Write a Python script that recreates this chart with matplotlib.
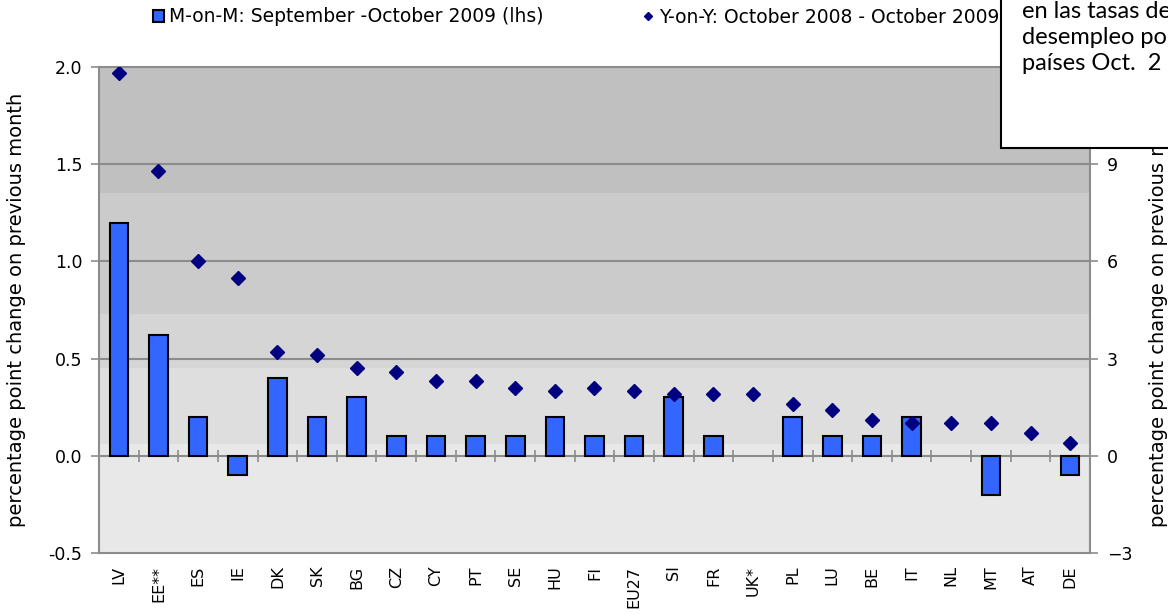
import matplotlib
matplotlib.use("Agg")
import matplotlib.pyplot as plt
from matplotlib.patches import Rectangle
import numpy as np

# data (None = no bar shown)
countries = ["LV", "EE**", "ES", "IE", "DK", "SK", "BG", "CZ", "CY", "PT", "SE", "HU", "FI",
             "EU27", "SI", "FR", "UK*", "PL", "LU", "BE", "IT", "NL", "MT", "AT", "DE"]
m_on_m = [1.2, 0.62, 0.2, -0.1, 0.4, 0.2, 0.3, 0.1, 0.1, 0.1, 0.1, 0.2, 0.1,
          0.1, 0.3, 0.1, None, 0.2, 0.1, 0.1, 0.2, None, -0.2, None, -0.1]
y_on_y = [11.8, 8.8, 6.0, 5.5, 3.2, 3.1, 2.7, 2.6, 2.3, 2.3, 2.1, 2.0, 2.1,
          2.0, 1.9, 1.9, 1.9, 1.6, 1.4, 1.1, 1.0, 1.0, 1.0, 0.7, 0.4]
left_ticks = [-0.5, 0.0, 0.5, 1.0, 1.5, 2.0]
right_ticks = [-3, 0, 3, 6, 9]

# stepped grey fill behind the plot (lhs units)
bands = [(1.35, 2.0, "#c0c0c0"), (0.73, 1.35, "#cbcbcb"), (0.45, 0.73, "#d5d5d5"),
         (0.06, 0.45, "#dedede"), (-0.5, 0.06, "#e8e8e8")]

plt.rcParams['font.family'] = ['DejaVu Sans']
GRID = "#8c8c8c"

fig = plt.figure(figsize=(11.68, 6.15), dpi=100)
ax = fig.add_axes([99 / 1168, 1 - 553 / 615, (1090 - 99) / 1168, (553 - 67) / 615])
x = np.arange(len(countries))
heights = np.array([np.nan if v is None else v for v in m_on_m])

for lo, hi, c in bands:
    ax.axhspan(lo, hi, color=c, zorder=0, lw=0)
for t in left_ticks[2:-1]:
    ax.axhline(t, color=GRID, lw=1.5, zorder=1)

bars = ax.bar(x, heights, width=0.47, color="#3366ff", edgecolor="black", lw=1.5, zorder=3,
              label="M-on-M: September -October 2009 (lhs)")
ax.set_xlim(-0.5, len(countries) - 0.5)
ax.set_ylim(-0.5, 2.0)
ax.set_yticks(left_ticks)
ax.set_yticklabels([f"{t:.1f}" for t in left_ticks])
ax.set_xticks(x)
ax.set_xticklabels(countries, rotation=90)
ax.tick_params(axis='x', length=0, labelsize=11.5, pad=9)
ax.tick_params(axis='y', length=6, width=1.2, color=GRID, labelsize=12.5, pad=6)
for s in ax.spines.values():
    s.set_color(GRID)
    s.set_linewidth(1.5)
ax.set_ylabel("percentage point change on previous month", fontsize=14, labelpad=16)

# category axis crossing at zero, with ticks between categories
zero_ax = ax.secondary_xaxis(0.2)
zero_ax.set_xticks(np.arange(len(countries) + 1) - 0.5)
zero_ax.tick_params(direction='inout', length=9, width=1.2, color=GRID, labelbottom=False)
zero_ax.spines['bottom'].set_color(GRID)
zero_ax.spines['bottom'].set_linewidth(1.5)

ax2 = ax.twinx()
pts, = ax2.plot(x, y_on_y, ls='none', marker='D', ms=7.5, color="#000080", zorder=4,
                label="Y-on-Y: October 2008 - October 2009 (rhs)")
ax2.set_ylim(-3, 12)
ax2.set_yticks(right_ticks)
ax2.tick_params(axis='y', length=6, width=1.2, color=GRID, labelsize=12.5, pad=6)
for s in ax2.spines.values():
    s.set_visible(False)
ax2.set_ylabel("percentage point change on previous month", fontsize=14, labelpad=12)

fig.legend(handles=[bars, pts], loc='center left', bbox_to_anchor=(136 / 1168, 1 - 17 / 615),
           ncol=2, frameon=False, fontsize=13.5, handlelength=0.6, handleheight=0.6,
           handletextpad=0.25, columnspacing=5.3, markerscale=0.6)

# white text box overlapping the top right corner
fig.add_artist(Rectangle((1001 / 1168, 1 - 148 / 615), 0.2, 0.3, transform=fig.transFigure,
                         facecolor="white", edgecolor="black", lw=1.5, zorder=10))
for i, line in enumerate(["en las tasas de", "desempleo po", "países Oct.  2"]):
    fig.text(1022 / 1168, 1 - (12 + 26 * i) / 615, line, fontsize=17, family=['Lato', 'DejaVu Sans'],
             va='center', ha='left', zorder=11)

fig.savefig("out.png", dpi=100)
